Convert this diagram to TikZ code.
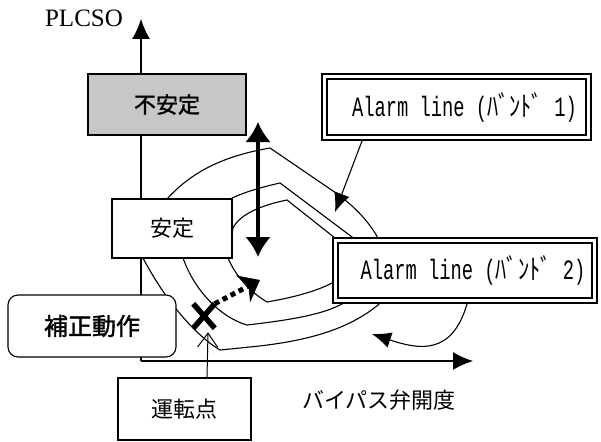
\documentclass[tikz,border=0pt]{standalone}
\usepackage{fontspec}
\usetikzlibrary{arrows.meta,shapes.misc}
\newfontfamily\cjk{Noto Sans CJK JP}
\newfontfamily\cjkb[FakeBold=1.5]{Noto Sans CJK JP}
\newfontfamily\axisfont{Liberation Serif}
\newfontfamily\alarmfont[FakeStretch=0.67]{Liberation Mono}
\newfontfamily\alarmkana[FakeStretch=0.8]{Noto Sans CJK JP}
\newcommand\alarmtxt[1]{\hspace*{16pt}{\alarmfont Alarm line (}{\alarmkana ﾊﾞﾝﾄﾞ}{\alarmfont\ #1)}}
\tikzset{>=Latex,
  axis/.style={draw,line width=1.2pt,-{Latex[length=20pt,width=18pt]}},
  band/.style={draw,line width=1.1pt},
  stbox/.style={draw,line width=1.1pt,fill=white,inner sep=0pt,font=\cjk\fontsize{22pt}{22pt}\selectfont},
  alarmbox/.style={draw,double,line width=1.8pt,double distance=3pt,fill=white,inner sep=0pt,outer sep=3.5pt,
    font=\fontsize{28pt}{28pt}\selectfont},
  pointer/.style={draw,line width=1.1pt,-{Latex[length=19pt,width=16pt]}},
  barb/.style={draw,line width=1pt,-{Straight Barb[length=14pt,width=20pt]}},
  swing/.style={draw,line width=4.5pt,{Latex[length=20pt,width=26pt]}-{Latex[length=20pt,width=26pt]}},
  dotarrow/.style={draw,line width=5pt,dash pattern=on 5pt off 4pt,-{Stealth[length=19pt,width=30pt,inset=6pt]}},
  xmark/.style={cross out,draw,line width=5.5pt,inner sep=0pt,minimum width=16pt,minimum height=19pt}}
\begin{document}
\begin{tikzpicture}[x=1pt,y=-1pt]
\useasboundingbox(0,0)rectangle(601,441);
\coordinate(o)at(141,361);\coordinate(ytop)at(141,19);\coordinate(xend)at(473,361);
\draw[axis](o)--(ytop);\draw[axis](o)--(xend);
\node[inner sep=0pt](ylab)at(84,18){\axisfont\fontsize{25pt}{25pt}\selectfont PLCSO};
\node[font=\cjk\fontsize{22pt}{22pt}\selectfont](xlab)at(379,400){バイパス弁開度};
\draw[band](167,199).. controls (195,168) and (230,155) ..(270,148)--(333,191)
  .. controls (352,204) and (368,220) ..(378,238).. controls (395,265) and (392,292) ..(378,305)
  .. controls (345,332) and (300,342) ..(250,347)--(220,350).. controls (195,335) and (165,300) ..(143,258)--cycle;
\draw[band](232,198).. controls (245,192) and (262,187) ..(280,183)--(352,237)
  .. controls (375,255) and (370,290) ..(340,305).. controls (320,315) and (290,320) ..(247,325)
  .. controls (222,318) and (195,292) ..(183,258)--cycle;
\draw[band](233,228).. controls (240,214) and (262,205) ..(287,200)--(335,238)
  .. controls (350,250) and (350,275) ..(332,283).. controls (315,292) and (290,298) ..(267,302)
  .. controls (250,292) and (235,275) ..(228,258)--cycle;
\node[stbox,fill=black!22,minimum width=158pt,minimum height=61pt,font=\cjkb\fontsize{22pt}{22pt}\selectfont](unstable)at(167,104.5){不安定};
\node[stbox,minimum width=120pt,minimum height=59pt](stable)at(172,228.5){安定};
\node[stbox,rounded corners=10pt,minimum width=168pt,minimum height=62pt,font=\cjkb\fontsize{24pt}{24pt}\selectfont](fix)at(92,326){補正動作};
\node[stbox,minimum width=133pt,minimum height=62pt](unten)at(184.5,409){運転点};
\node[alarmbox,minimum width=264pt,minimum height=61pt](alarm1)at(456.5,107){\alarmtxt{1}};
\node[alarmbox,minimum width=259pt,minimum height=60pt](alarm2)at(465,270.5){\alarmtxt{2}};
\node[xmark](op)at(204,316){};
\coordinate(a1tip)at(335,212);\coordinate(a2tip)at(372,334);\coordinate(dtip)at(260,280);
\coordinate(swtop)at(258,122);\coordinate(swbot)at(258,257);
\draw[swing](swtop)--(swbot);
\draw[pointer]([xshift=41pt]alarm1.south west)--(a1tip);
\draw[pointer]([xshift=135pt]alarm2.south west).. controls (452,355) and (420,350) ..(a2tip);
\draw[barb]([xshift=22.5pt]unten.north)--([xshift=4pt,yshift=-4pt]op.south);
\draw[dotarrow](op.north east)--(dtip);
\end{tikzpicture}
\end{document}
